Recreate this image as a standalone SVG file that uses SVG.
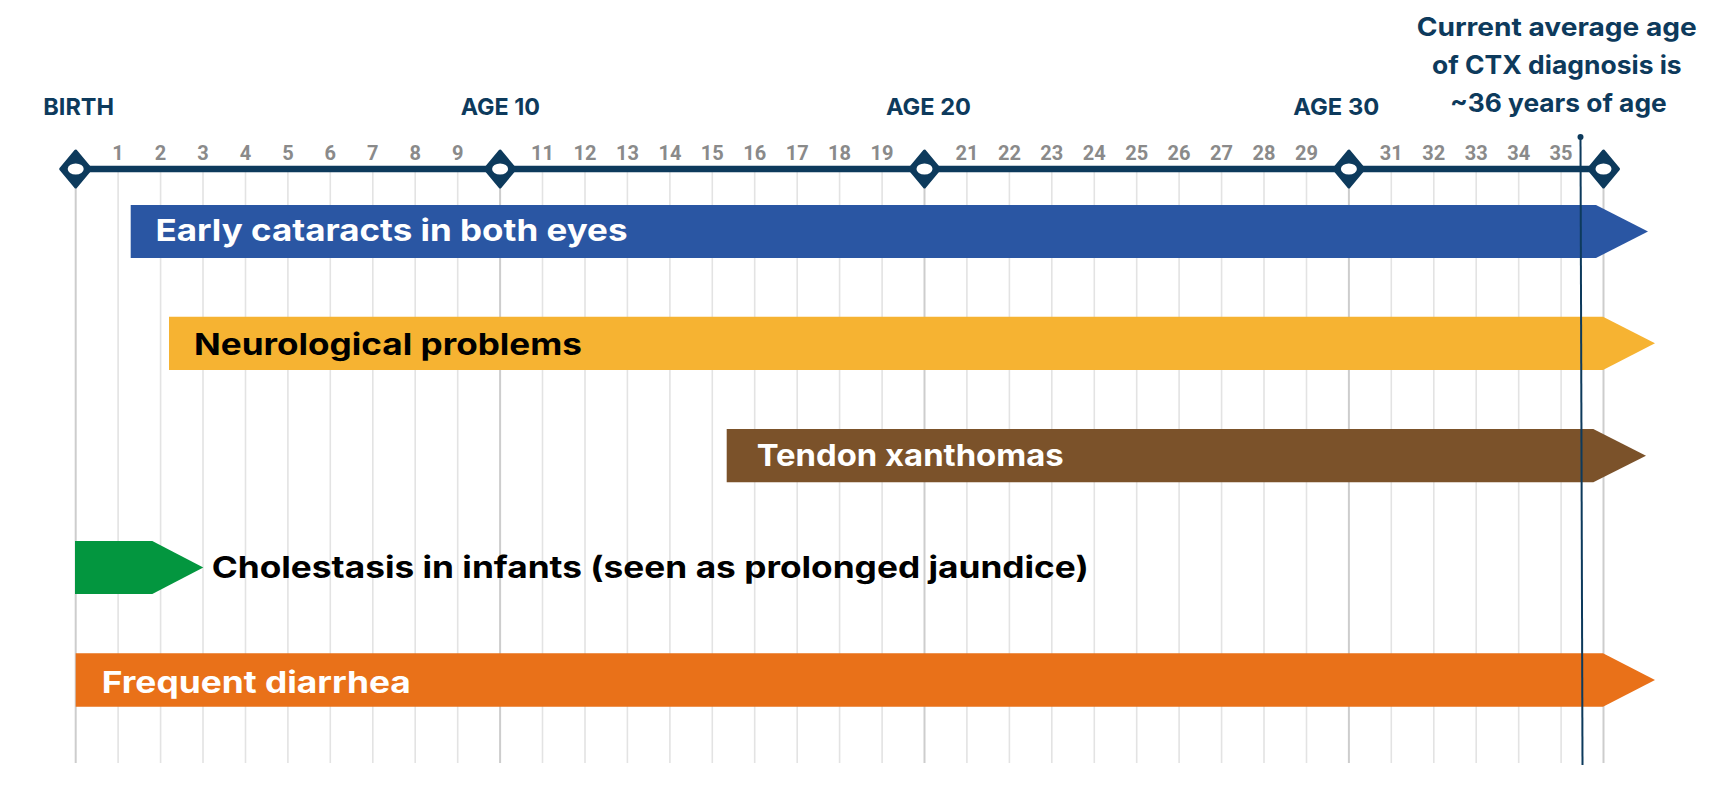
<svg xmlns="http://www.w3.org/2000/svg" xmlns:xlink="http://www.w3.org/1999/xlink" width="1720" height="786" viewBox="0 0 1720 786">
<style>
.grid{stroke:#e3e3e3;stroke-width:1.6}
.gridm{stroke:#cdcdcd;stroke-width:2}
.tick{font-family:Roboto,"Liberation Sans",sans-serif;font-weight:700;font-size:20px;fill:#8a8a8a;text-anchor:middle}
.mile{font-family:Inter,"Liberation Sans",sans-serif;font-weight:700;font-size:23.5px;fill:#0d3a5c}
.note{font-family:Inter,"Liberation Sans",sans-serif;font-weight:700;font-size:25.5px;fill:#0d3a5c}
.lbl{font-family:Inter,"Liberation Sans",sans-serif;font-weight:700;font-size:30px}
.w{fill:#ffffff}
.k{fill:#000000}
</style>
<defs>
<g id="dia">
<polygon points="0,-18 15,0 0,18 -15,0" fill="#0d3a5c" stroke="#0d3a5c" stroke-width="3" stroke-linejoin="round"/>
<ellipse cx="0" cy="0" rx="8" ry="5.5" fill="#ffffff"/>
</g>
</defs>
<rect width="1720" height="786" fill="#ffffff"/>
<g id="grid">
<line class="gridm" x1="75.7" y1="172" x2="75.7" y2="763"/>
<line class="grid" x1="118.1" y1="172" x2="118.1" y2="763"/>
<line class="grid" x1="160.6" y1="172" x2="160.6" y2="763"/>
<line class="grid" x1="203" y1="172" x2="203" y2="763"/>
<line class="grid" x1="245.5" y1="172" x2="245.5" y2="763"/>
<line class="grid" x1="287.9" y1="172" x2="287.9" y2="763"/>
<line class="grid" x1="330.3" y1="172" x2="330.3" y2="763"/>
<line class="grid" x1="372.8" y1="172" x2="372.8" y2="763"/>
<line class="grid" x1="415.2" y1="172" x2="415.2" y2="763"/>
<line class="grid" x1="457.7" y1="172" x2="457.7" y2="763"/>
<line class="gridm" x1="500.1" y1="172" x2="500.1" y2="763"/>
<line class="grid" x1="542.5" y1="172" x2="542.5" y2="763"/>
<line class="grid" x1="585" y1="172" x2="585" y2="763"/>
<line class="grid" x1="627.4" y1="172" x2="627.4" y2="763"/>
<line class="grid" x1="669.9" y1="172" x2="669.9" y2="763"/>
<line class="grid" x1="712.3" y1="172" x2="712.3" y2="763"/>
<line class="grid" x1="754.7" y1="172" x2="754.7" y2="763"/>
<line class="grid" x1="797.2" y1="172" x2="797.2" y2="763"/>
<line class="grid" x1="839.6" y1="172" x2="839.6" y2="763"/>
<line class="grid" x1="882.1" y1="172" x2="882.1" y2="763"/>
<line class="gridm" x1="924.5" y1="172" x2="924.5" y2="763"/>
<line class="grid" x1="966.9" y1="172" x2="966.9" y2="763"/>
<line class="grid" x1="1009.4" y1="172" x2="1009.4" y2="763"/>
<line class="grid" x1="1051.8" y1="172" x2="1051.8" y2="763"/>
<line class="grid" x1="1094.3" y1="172" x2="1094.3" y2="763"/>
<line class="grid" x1="1136.7" y1="172" x2="1136.7" y2="763"/>
<line class="grid" x1="1179.1" y1="172" x2="1179.1" y2="763"/>
<line class="grid" x1="1221.6" y1="172" x2="1221.6" y2="763"/>
<line class="grid" x1="1264" y1="172" x2="1264" y2="763"/>
<line class="grid" x1="1306.5" y1="172" x2="1306.5" y2="763"/>
<line class="gridm" x1="1348.9" y1="172" x2="1348.9" y2="763"/>
<line class="grid" x1="1391.3" y1="172" x2="1391.3" y2="763"/>
<line class="grid" x1="1433.8" y1="172" x2="1433.8" y2="763"/>
<line class="grid" x1="1476.2" y1="172" x2="1476.2" y2="763"/>
<line class="grid" x1="1518.7" y1="172" x2="1518.7" y2="763"/>
<line class="grid" x1="1561.1" y1="172" x2="1561.1" y2="763"/>
<line class="gridm" x1="1603.5" y1="172" x2="1603.5" y2="763"/>
</g>
<g id="ticks">
<text class="tick" x="118.1" y="160">1</text>
<text class="tick" x="160.6" y="160">2</text>
<text class="tick" x="203" y="160">3</text>
<text class="tick" x="245.5" y="160">4</text>
<text class="tick" x="287.9" y="160">5</text>
<text class="tick" x="330.3" y="160">6</text>
<text class="tick" x="372.8" y="160">7</text>
<text class="tick" x="415.2" y="160">8</text>
<text class="tick" x="457.7" y="160">9</text>
<text class="tick" x="542.5" y="160">11</text>
<text class="tick" x="585" y="160">12</text>
<text class="tick" x="627.4" y="160">13</text>
<text class="tick" x="669.9" y="160">14</text>
<text class="tick" x="712.3" y="160">15</text>
<text class="tick" x="754.7" y="160">16</text>
<text class="tick" x="797.2" y="160">17</text>
<text class="tick" x="839.6" y="160">18</text>
<text class="tick" x="882.1" y="160">19</text>
<text class="tick" x="966.9" y="160">21</text>
<text class="tick" x="1009.4" y="160">22</text>
<text class="tick" x="1051.8" y="160">23</text>
<text class="tick" x="1094.3" y="160">24</text>
<text class="tick" x="1136.7" y="160">25</text>
<text class="tick" x="1179.1" y="160">26</text>
<text class="tick" x="1221.6" y="160">27</text>
<text class="tick" x="1264" y="160">28</text>
<text class="tick" x="1306.5" y="160">29</text>
<text class="tick" x="1391.3" y="160">31</text>
<text class="tick" x="1433.8" y="160">32</text>
<text class="tick" x="1476.2" y="160">33</text>
<text class="tick" x="1518.7" y="160">34</text>
<text class="tick" x="1561.1" y="160">35</text>
</g>
<g id="bar-cataracts">
<polygon points="130.7,205 1596,205 1648,231.5 1596,258 130.7,258" fill="#2a56a3"/>
<text class="lbl w" x="155.5" y="241" textLength="472" lengthAdjust="spacingAndGlyphs">Early cataracts in both eyes</text>
</g>
<g id="bar-neuro">
<polygon points="169,316.7 1603,316.7 1655,343.3 1603,370 169,370" fill="#f6b332"/>
<text class="lbl k" x="194" y="355" textLength="388" lengthAdjust="spacingAndGlyphs">Neurological problems</text>
</g>
<g id="bar-tendon">
<polygon points="726.7,429 1593.3,429 1646,455.7 1593.3,482.3 726.7,482.3" fill="#7b522a"/>
<text class="lbl w" x="756.7" y="465.5" textLength="307" lengthAdjust="spacingAndGlyphs">Tendon xanthomas</text>
</g>
<g id="bar-cholestasis">
<polygon points="75,541 152.3,541 203.3,567.5 152.3,594 75,594" fill="#03963f"/>
<text class="lbl k" x="211.7" y="578" textLength="877" lengthAdjust="spacingAndGlyphs">Cholestasis in infants (seen as prolonged jaundice)</text>
</g>
<g id="bar-diarrhea">
<polygon points="75.7,653.3 1603,653.3 1655,680 1603,706.7 75.7,706.7" fill="#e97119"/>
<text class="lbl w" x="101.8" y="692.5" textLength="309" lengthAdjust="spacingAndGlyphs">Frequent diarrhea</text>
</g>
<g id="axis">
<line x1="75.7" y1="169" x2="1603.5" y2="169" stroke="#0d3a5c" stroke-width="6.5"/>
</g>
<g id="milestone-birth">
<use xlink:href="#dia" x="75.7" y="169"/>
<text class="mile" x="43.3" y="114.5" textLength="70.7" lengthAdjust="spacingAndGlyphs">BIRTH</text>
</g>
<g id="milestone-10">
<use xlink:href="#dia" x="500.1" y="169"/>
<text class="mile" x="460.7" y="114.5" textLength="79.3" lengthAdjust="spacingAndGlyphs">AGE 10</text>
</g>
<g id="milestone-20">
<use xlink:href="#dia" x="924.5" y="169"/>
<text class="mile" x="886" y="114.5" textLength="85" lengthAdjust="spacingAndGlyphs">AGE 20</text>
</g>
<g id="milestone-30">
<use xlink:href="#dia" x="1348.9" y="169"/>
<text class="mile" x="1293.3" y="114.5" textLength="86" lengthAdjust="spacingAndGlyphs">AGE 30</text>
</g>
<g id="milestone-36">
<use xlink:href="#dia" x="1603.5" y="169"/>
</g>
<g id="connectors">
<line x1="1580.5" y1="137" x2="1582.5" y2="765" stroke="#0d3a5c" stroke-width="2"/>
<circle cx="1580.5" cy="137" r="3" fill="#0d3a5c"/>
</g>
<g id="diagnosis-note">
<text class="note" x="1416.7" y="36" textLength="280" lengthAdjust="spacingAndGlyphs">Current average age</text>
<text class="note" x="1432" y="74" textLength="249.7" lengthAdjust="spacingAndGlyphs">of CTX diagnosis is</text>
<text class="note" x="1450" y="112" textLength="216.7" lengthAdjust="spacingAndGlyphs">~36 years of age</text>
</g>
</svg>
